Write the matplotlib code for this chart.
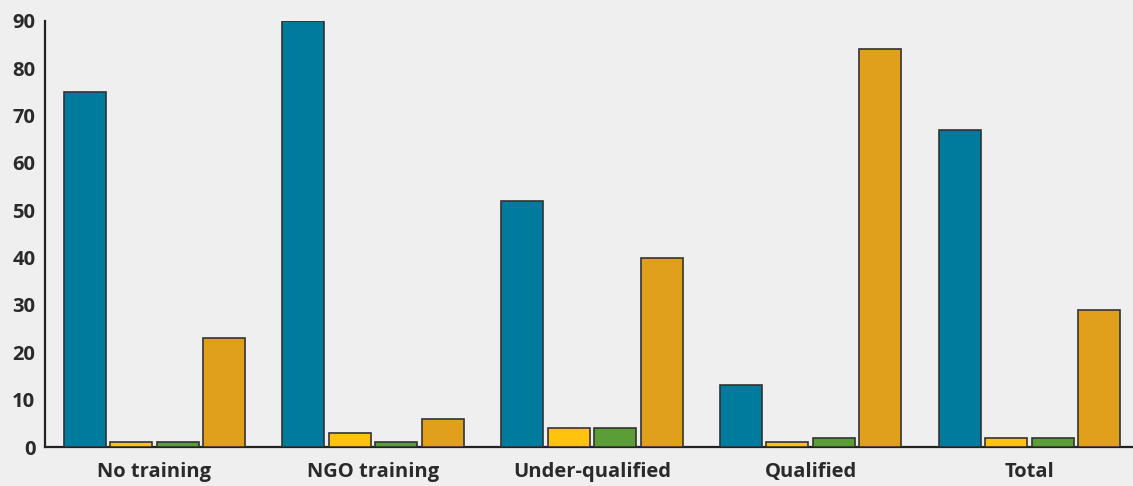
import matplotlib.pyplot as plt
import numpy as np

categories = ["No training", "NGO training", "Under-qualified", "Qualified", "Total"]
series_blue = [75, 90, 52, 13, 67]
series_yellow = [1, 3, 4, 1, 2]
series_green = [1, 1, 4, 2, 2]
series_orange = [23, 6, 40, 84, 29]
yticks = [0, 10, 20, 30, 40, 50, 60, 70, 80, 90]

colors = ["#007b9d", "#ffc20f", "#5b9e37", "#e1a01b"]
series = [series_blue, series_yellow, series_green, series_orange]

fig = plt.figure(figsize=(11.33, 4.86), dpi=100, facecolor="#efefef")
ax = fig.add_axes([45 / 1133, 1 - 447 / 486, 1 - 45 / 1133, (447 - 21) / 486])
ax.set_facecolor("#efefef")

x = np.arange(len(categories))
width = 0.192
step = 0.2125
for i, (vals, c) in enumerate(zip(series, colors)):
    ax.bar(x + (i - 1.5) * step, vals, width, color=c, edgecolor="#333333",
           linewidth=1.2, zorder=3)

ax.set_xlim(-0.5, 4.473)
ax.set_ylim(0, 90)
ax.set_yticks(yticks)
ax.set_xticks(x)
ax.set_xticklabels(categories)

for s in ["top", "right"]:
    ax.spines[s].set_visible(False)
for s in ["left", "bottom"]:
    ax.spines[s].set_color("#222222")
    ax.spines[s].set_linewidth(1.6)

ax.tick_params(axis="both", length=0, labelcolor="#2a2a2a")
ax.tick_params(axis="y", pad=7)
ax.tick_params(axis="x", pad=11)
for lab in ax.get_yticklabels() + ax.get_xticklabels():
    lab.set_fontfamily("Open Sans")
    lab.set_fontweight("bold")
    lab.set_fontsize(14.5)

fig.savefig("out.png", dpi=100, facecolor=fig.get_facecolor())
